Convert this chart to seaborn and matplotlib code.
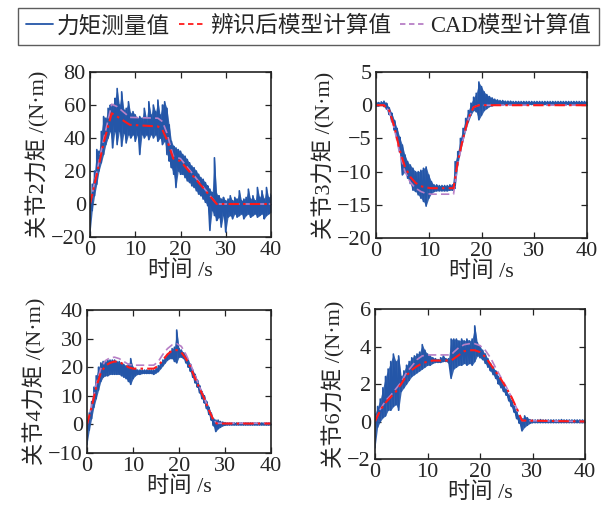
import numpy as np
import matplotlib
matplotlib.use("Agg")
import matplotlib.pyplot as plt
import seaborn as sns
from matplotlib.lines import Line2D

sns.set_theme(style="white")
plt.rcParams['font.family'] = ['Liberation Serif', 'Noto Sans CJK SC']
plt.rcParams['axes.unicode_minus'] = True

# ---------------- data ----------------
legend_labels = ['力矩测量值', '辨识后模型计算值', 'CAD模型计算值']
ylabels = ['关节2力矩 /(N·m)', '关节3力矩 /(N·m)', '关节4力矩 /(N·m)', '关节6力矩 /(N·m)']
xlabel = '时间 /s'
xticks = [0, 10, 20, 30, 40]
yticks_j2 = [-20, 0, 20, 40, 60, 80]
yticks_j3 = [-20, -15, -10, -5, 0, 5]
yticks_j4 = [-10, 0, 10, 20, 30, 40]
yticks_j6 = [-2, 0, 2, 4, 6]

# measured torque: time samples (s) with lower / upper extent of the noisy trace
t_meas = np.arange(0, 40.5, 0.5)

j2_hi = [2, 12, 20, 33, 32, 44, 53, 52, 58, 60,
         60, 64, 70, 60, 68, 57, 58, 62, 55, 56,
         54, 52, 53, 52, 58, 52, 62, 54, 60, 56,
         63, 54, 60, 62, 58, 48, 38, 35, 34, 33,
         32, 30, 29, 27, 25, 23, 22, 20, 18, 16,
         15, 13, 11, 9, 7, 28, 6, 5, 3, 4,
         2, 3, 5, 2, 4, 3, 8, 2, 3, 4,
         9, 3, 5, 2, 10, 4, 8, 3, 10, 4,
         6]
j2_lo = [-18, -4, 5, 12, 20, 25, 30, 36, 40, 44,
         34, 44, 36, 44, 35, 43, 37, 42, 40, 42,
         38, 42, 30, 42, 40, 42, 39, 42, 40, 42,
         38, 40, 36, 38, 30, 26, 22, 18, 10, 20,
         18, 18, 16, 14, 13, 11, 10, 8, 6, 5,
         3, 1, -1, -16, -4, -7, -10, -8, -14, -7,
         -17, -8, -7, -9, -6, -8, -7, -6, -9, -7,
         -6, -8, -7, -6, -8, -7, -6, -9, -7, -6,
         -5]

j3_hi = [0.5, 0.4, 0.5, 0.6, 0.3, -0.4, -1.2, -2.3, -3.5, -4.8,
         -6, -7.5, -8.5, -9, -9.5, -10, -10, -9.8, -9.5, -9.3,
         -10.5, -11.5, -12, -12, -12.1, -12.1, -12.1, -12.1, -12, -12,
         -8.5, -7, -5, -3.5, -2, -0.8, 0.3, 1.2, 1.8, 3.5,
         2.8, 2, 1.6, 1.3, 1.1, 0.9, 0.8, 0.7, 0.7, 0.6,
         0.6, 0.6, 0.55, 0.55, 0.55, 0.55, 0.55, 0.55, 0.55, 0.55,
         0.55, 0.55, 0.55, 0.55, 0.55, 0.55, 0.55, 0.55, 0.55, 0.55,
         0.55, 0.55, 0.55, 0.55, 0.55, 0.55, 0.55, 0.55, 0.55, 0.55,
         0.55]
j3_lo = [-0.2, -0.1, 0, -0.2, -0.6, -1.4, -2.5, -3.8, -5.2, -7,
         -10.5, -10, -11, -11.8, -12.8, -13, -13.5, -14, -14.5, -15.2,
         -14, -13.3, -13, -12.9, -12.9, -12.9, -12.9, -12.9, -12.8, -12.8,
         -12.5, -9, -7, -5.3, -3.8, -2.5, -1.5, -0.8, -1, -2.2,
         -1.5, -0.8, -0.5, -0.2, -0.1, 0, 0, 0.05, 0.05, 0.1,
         0.1, 0.1, 0.1, 0.1, 0.1, 0.1, 0.1, 0.1, 0.1, 0.1,
         0.1, 0.1, 0.1, 0.1, 0.1, 0.1, 0.1, 0.1, 0.1, 0.1,
         0.1, 0.1, 0.1, 0.1, 0.1, 0.1, 0.1, 0.1, 0.1, 0.1,
         0.1]

j4_hi = [0, 4, 8, 13, 17, 20, 21.5, 22, 22, 22.5,
         22.5, 22.5, 22.5, 22, 22, 21.5, 21, 20.5, 21, 23,
         20, 19.5, 19, 19, 19, 19, 19, 19, 19, 19,
         19.5, 20.5, 21.5, 22.5, 23.5, 24.5, 25.5, 26.5, 27, 33,
         26.5, 26, 25, 24, 22.5, 21, 19, 17.5, 15.5, 13.5,
         11.5, 10, 8, 6, 4, 2, 1.5, 1.5, 1, 0.8,
         0.6, 0.5, 0.5, 0.5, 0.5, 0.5, 0.5, 0.5, 0.5, 0.5,
         0.5, 0.5, 0.5, 0.5, 0.5, 0.5, 0.5, 0.5, 0.5, 0.5,
         0.5]
j4_lo = [-7, -2, 2, 6, 9, 12, 15, 16.5, 17, 17,
         17.5, 17.5, 17.5, 17.5, 17.5, 17, 16.5, 16, 15, 14,
         16, 17, 17.5, 17.5, 17.8, 17.8, 17.8, 17.8, 17.8, 17.5,
         18, 18.5, 19.5, 20.5, 21.5, 22.5, 23, 23, 22, 21.5,
         23.5, 23.5, 23, 21.5, 20, 18.5, 16.5, 14.5, 13, 11,
         9, 7.5, 5.5, 3.5, 1.5, -0.5, -2.5, -1.5, -1, -0.5,
         -0.3, -0.2, -0.2, -0.2, -0.2, -0.2, -0.2, -0.2, -0.2, -0.2,
         -0.2, -0.2, -0.2, -0.2, -0.2, -0.2, -0.2, -0.2, -0.2, -0.2,
         -0.2]

j6_hi = [0.4, 0.8, 1.2, 1.8, 2.4, 2.8, 3.2, 3.6, 3.2, 3.5,
         2.4, 2.7, 3.0, 3.2, 3.4, 3.5, 3.6, 3.7, 4.1, 3.8,
         3.6, 3.5, 3.4, 3.35, 3.3, 3.4, 3.5, 3.35, 3.35, 4.4,
         4.4, 4.4, 4.3, 4.4, 4.3, 4.4, 4.3, 4.4, 5.1, 4.2,
         4.0, 3.8, 3.6, 3.35, 3.1, 2.9, 2.7, 2.4, 2.2, 1.9,
         1.7, 1.4, 1.1, 0.8, 0.5, 0.25, 0.15, 0.3, 0.2, 0.1,
         0.08, 0.08, 0.08, 0.1, 0.08, 0.08, 0.08, 0.08, 0.08, 0.08,
         0.08, 0.1, 0.08, 0.08, 0.08, 0.08, 0.08, 0.08, 0.08, 0.08,
         0.08]
j6_lo = [-1.4, -0.3, 0, 0.2, 0.3, 0.6, 0.6, 0.8, 0.9, 0.6,
         1.6, 1.8, 2.0, 2.2, 2.4, 2.5, 2.6, 2.7, 2.8, 2.9,
         3.0, 3.0, 3.1, 3.15, 3.15, 3.15, 3.2, 3.2, 3.15, 2.3,
         2.8, 2.9, 3.0, 3.0, 3.1, 3.0, 3.1, 3.0, 3.2, 3.5,
         3.4, 3.3, 3.1, 2.9, 2.7, 2.5, 2.3, 2.0, 1.8, 1.6,
         1.4, 1.1, 0.8, 0.5, 0.15, -0.1, -0.5, -0.3, -0.2, -0.1,
         -0.06, -0.06, -0.06, -0.06, -0.06, -0.06, -0.06, -0.06, -0.06, -0.06,
         -0.06, -0.06, -0.06, -0.06, -0.06, -0.06, -0.06, -0.06, -0.06, -0.06,
         -0.06]

# model curves (knot times in s and torque values)
j2_mt = [0, 2, 3, 4.8, 6, 8.8, 15, 16, 17, 18.4, 20, 28, 40]
j2_red = [0, 24, 37, 55, 53, 48, 47, 45, 39, 27.5, 26, 0, 0]
j2_cad = [0, 26, 39, 60.5, 59, 52.5, 52, 50, 43, 29, 27.5, 0, 0]

j3_mt = [0, 1.5, 2.5, 3.5, 4.5, 5.5, 6.5, 7.5, 8.5, 9.5, 10.5, 14.7, 15.5, 16.5, 17.5, 18.5, 19.5, 40]
j3_red = [0, 0, -0.8, -3.3, -6.8, -9.3, -10.8, -11.7, -12.2, -12.4, -12.5, -12.5, -8.5, -5, -2, -0.3, 0, 0]
j3_cad = [0, 0, -0.9, -3.6, -7.3, -10, -11.6, -12.5, -13, -13.3, -13.4, -13.4, -8.8, -5.2, -2.1, -0.3, 0, 0]

j4_mt = [0, 1, 2, 3, 4, 5, 6, 7, 8, 9, 10, 14.5, 15.5, 16.5, 17.5, 18.5, 19.5, 20.5,
         21.5, 22.5, 23.5, 24.5, 25.5, 26.5, 27.5, 28.2, 40]
j4_red = [0, 6, 13, 18, 20.5, 21.5, 22, 21.8, 21, 20, 19.5, 19.5, 20.5, 22.5, 24.5, 25.8, 26, 25.2,
          23, 20, 16, 12.5, 9, 5, 1.5, 0.3, 0.3]
j4_cad = [0, 6.5, 14, 19.5, 22.3, 23.3, 23.5, 23, 22, 21, 20.7, 20.7, 22, 24.5, 26.5, 27.8, 28.2, 27.3,
          24.5, 21, 17, 13, 9.2, 5.2, 1.6, 0.4, 0.4]

j6_mt = [0, 1, 2, 3, 4, 5, 6, 7, 8, 9, 10, 11, 14.5, 15, 16, 17, 18, 19, 20, 21, 22, 23, 24, 25,
         26, 27, 28, 40]
j6_red = [0, 0.6, 1.0, 1.3, 1.6, 2.0, 2.45, 2.75, 2.95, 3.1, 3.2, 3.25, 3.25, 3.35, 3.55, 3.75, 3.8,
          3.8, 3.7, 3.45, 3.05, 2.65, 2.25, 1.8, 1.3, 0.7, 0.05, 0]
j6_cad = [0, 0.65, 1.1, 1.4, 1.75, 2.1, 2.6, 2.95, 3.3, 3.5, 3.55, 3.55, 3.55, 3.7, 3.95, 4.1, 4.15,
          4.15, 4.05, 3.8, 3.4, 2.85, 2.35, 1.85, 1.3, 0.7, 0.05, 0]

# ---------------- style ----------------
BLUE = '#2456a8'
RED = '#ff1a1a'
PURPLE = '#b77fc6'
TXT = '#262626'
FS = 16

fig = plt.figure(figsize=(6.11, 5.11), dpi=100)
W, H = 611, 511


def add_ax(l, r, t, b):
    return fig.add_axes([l / W, 1 - b / H, (r - l) / W, (b - t) / H])


panels = [
    (add_ax(90, 271, 72, 237), j2_lo, j2_hi, j2_mt, j2_red, j2_cad, yticks_j2, ylabels[0]),
    (add_ax(376, 587, 72, 238), j3_lo, j3_hi, j3_mt, j3_red, j3_cad, yticks_j3, ylabels[1]),
    (add_ax(87, 271, 310, 453), j4_lo, j4_hi, j4_mt, j4_red, j4_cad, yticks_j4, ylabels[2]),
    (add_ax(375, 585, 309, 459), j6_lo, j6_hi, j6_mt, j6_red, j6_cad, yticks_j6, ylabels[3]),
]

for ax, lo, hi, mt, red, cad, yt, yl in panels:
    x = np.repeat(t_meas, 2)
    y = np.column_stack([lo, hi]).ravel()
    ax.fill_between(t_meas, lo, hi, color=BLUE, linewidth=0, alpha=0.9)
    sns.lineplot(x=x, y=y, sort=False, estimator=None, color=BLUE, linewidth=1.2, ax=ax)
    sns.lineplot(x=mt, y=cad, sort=False, estimator=None, color=PURPLE, linewidth=1.2,
                 linestyle=(0, (5, 2.5)), ax=ax)
    sns.lineplot(x=mt, y=red, sort=False, estimator=None, color=RED, linewidth=1.5,
                 linestyle=(0, (5, 2, 1.2, 2)), ax=ax)
    ax.set_xlim(0, 40)
    ax.set_ylim(yt[0], yt[-1])
    ax.set_xticks(xticks)
    ax.set_yticks(yt)
    ax.tick_params(direction='in', top=True, right=True, bottom=True, left=True,
                   length=4.5, width=0.9, labelsize=FS, colors='#222222', labelcolor=TXT, pad=3)
    for s in ax.spines.values():
        s.set_color('#222222')
        s.set_linewidth(1.2)
    ax.set_xlabel(xlabel, fontsize=FS, color=TXT, labelpad=0)
    ax.set_ylabel(yl, fontsize=FS, color=TXT, labelpad=1)

handles = [
    Line2D([], [], color=BLUE, linewidth=1.3),
    Line2D([], [], color=RED, linewidth=1.3, linestyle=(0, (3, 2))),
    Line2D([], [], color=PURPLE, linewidth=1.3, linestyle=(0, (3, 2))),
]
leg = fig.legend(handles, legend_labels, loc='upper center', bbox_to_anchor=(0.505, 0.993), ncol=3,
                 frameon=True, fancybox=False, fontsize=16.3, handlelength=1.2, handletextpad=0.15,
                 columnspacing=0.4, borderpad=0.35, borderaxespad=0.2)
leg.get_frame().set_edgecolor('#333333')
leg.get_frame().set_linewidth(1.0)
for txt in leg.get_texts():
    txt.set_color(TXT)

fig.savefig('out.png', dpi=100)
